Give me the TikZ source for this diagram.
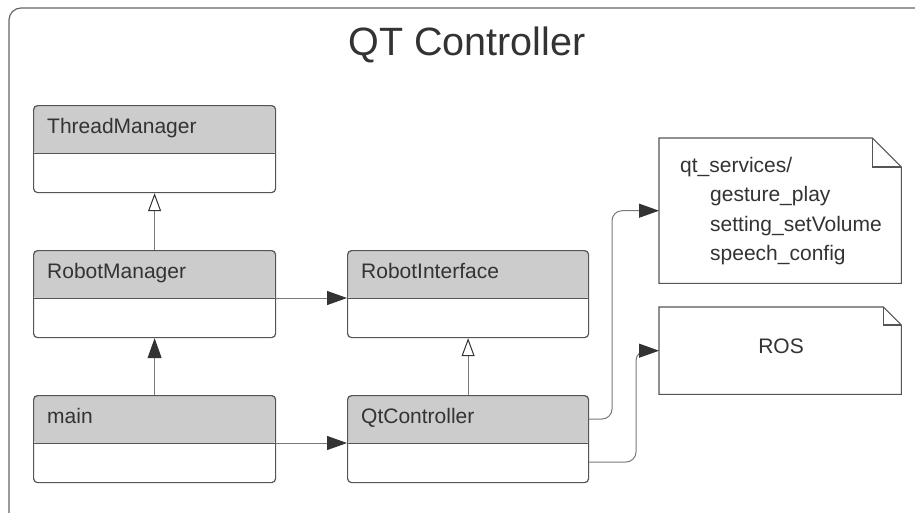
\documentclass[tikz,border=0pt]{standalone}
\usepackage{fontspec}
\setmainfont{Liberation Sans}
\usetikzlibrary{arrows.meta,calc}
\definecolor{hdrc}{HTML}{CCCCCC}
\definecolor{boxc}{HTML}{555555}
\definecolor{linec}{HTML}{7A7A7A}
\definecolor{tipc}{HTML}{333333}
\definecolor{txtc}{HTML}{333333}
\definecolor{framec}{HTML}{666666}
\tikzset{
  classbox/.style={draw=boxc, line width=1.2pt, rounded corners=4pt,
    minimum width=242pt, minimum height=87pt, inner sep=0pt, anchor=north west,
    path picture={
      \fill[hdrc] (path picture bounding box.north west) rectangle
        ([yshift=-48pt]path picture bounding box.north east);
      \draw[boxc, line width=1.2pt] ([yshift=-48pt]path picture bounding box.north west) --
        ([yshift=-48pt]path picture bounding box.north east);
    }},
  ctext/.style={text=txtc, font=\fontsize{21}{24}\selectfont, anchor=base west, inner sep=0pt},
  notebox/.style={draw=none, minimum width=242pt, inner sep=0pt, anchor=north west},
  noteline/.style={draw=boxc, line width=1.1pt, line join=miter},
  assoc/.style={draw=linec, line width=1pt, -{Triangle[length=20pt,width=14pt,color=tipc]}},
  gen/.style={draw=linec, line width=1pt, -{Triangle[open,length=18pt,width=13pt,color=tipc,line width=1pt]}},
}
\begin{document}
\begin{tikzpicture}[x=1pt,y=-1pt]
\useasboundingbox (0,0) rectangle (915,512);
\clip (0,0) rectangle (915,512);
\fill[white] (0,0) rectangle (915,512);
% frame
\draw[framec, line width=1.2pt, rounded corners=12pt] (9,8) rectangle (935,530);
\node[text=txtc, font=\fontsize{39.5}{44}\selectfont, anchor=base, inner sep=0pt] (title) at (467,55) {QT Controller};
% classes
\node[classbox] (tm) at (33,105) {};
\node[classbox] (rm) at (33,250) {};
\node[classbox] (mn) at (33,395) {};
\node[classbox, minimum width=241pt] (ri) at (347,250) {};
\node[classbox, minimum width=241pt] (qc) at (347,395) {};
\node[ctext] (tmt) at (47,133.5) {ThreadManager};
\node[ctext] (rmt) at (47,278.5) {RobotManager};
\node[ctext] (mnt) at (47,423.5) {main};
\node[ctext] (rit) at (361,278.5) {RobotInterface};
\node[ctext] (qct) at (361,423.5) {QtController};
% notes
\node[notebox, minimum height=145pt] (svc) at (659,138) {};
\draw[noteline] (svc.south west) -- (svc.north west) -- ([xshift=-29pt]svc.north east)
  -- ([yshift=-29pt]svc.north east) -- (svc.south east) -- cycle;
\draw[noteline] ([xshift=-29pt]svc.north east) |- ([yshift=-29pt]svc.north east);
\node[ctext] (s1) at (680,172) {qt\_services/};
\node[ctext] (s2) at (710,201.5) {gesture\_play};
\node[ctext] (s3) at (710,231) {setting\_setVolume};
\node[ctext] (s4) at (710,260) {speech\_config};
\node[notebox, minimum height=87pt] (ros) at (659,307) {};
\draw[noteline] (ros.south west) -- (ros.north west) -- ([xshift=-18pt]ros.north east)
  -- ([yshift=-18pt]ros.north east) -- (ros.south east) -- cycle;
\draw[noteline] ([xshift=-18pt]ros.north east) |- ([yshift=-18pt]ros.north east);
\node[ctext, anchor=base] (rost) at (781,353) {ROS};
% connectors
\draw[gen] (rm.north) -- (tm.south);
\draw[gen] (qc.north) -- (ri.south);
\draw[assoc] (mn.north) -- (rm.south);
\draw[assoc] ([yshift=-48pt]rm.north east) -- ([yshift=-48pt]ri.north west);
\draw[assoc] ([yshift=-48pt]mn.north east) -- ([yshift=-48pt]qc.north west);
\coordinate (k1) at (612,0);
\coordinate (k2) at (636,0);
\draw[assoc, rounded corners=10pt] ([yshift=-24pt]qc.north east) -| (k1 |- svc.west) -- (svc.west);
\draw[assoc, rounded corners=10pt] ([yshift=-67pt]qc.north east) -| (k2 |- ros.west) -- (ros.west);
\end{tikzpicture}
\end{document}
